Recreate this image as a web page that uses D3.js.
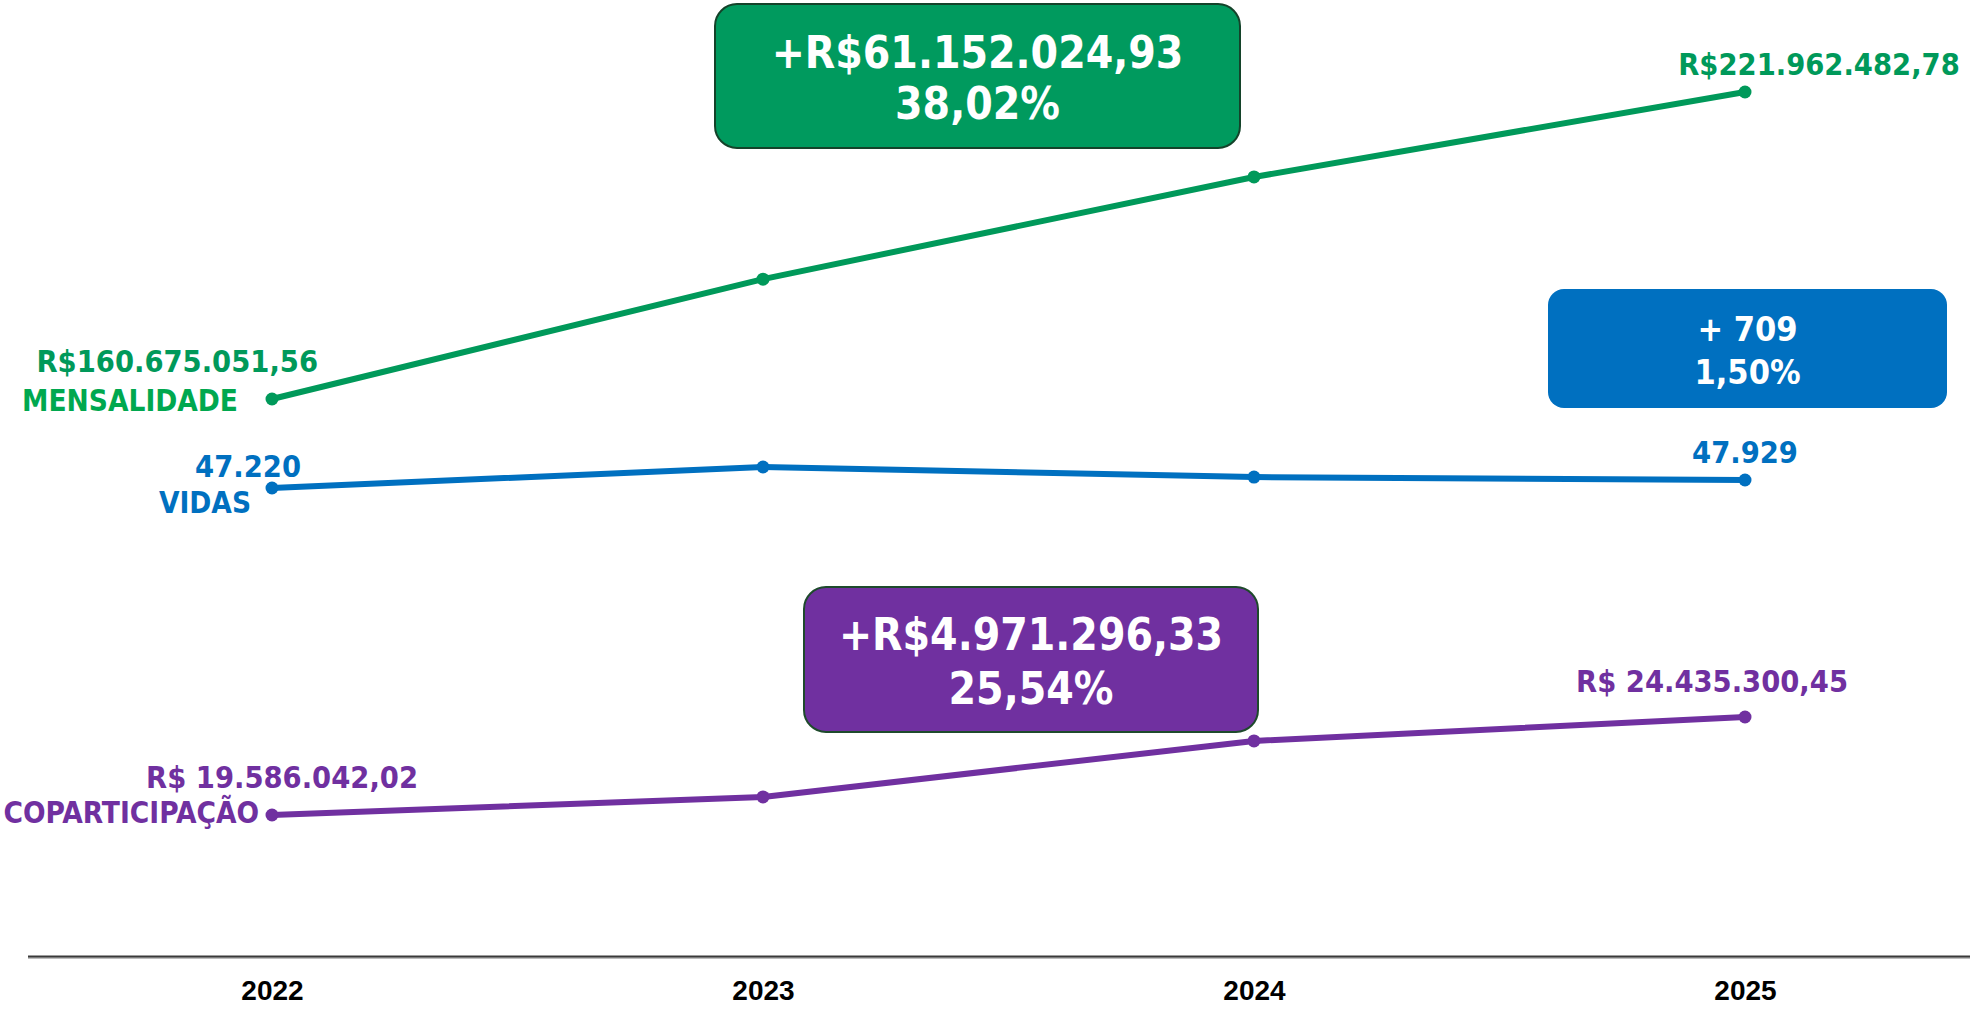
<!DOCTYPE html>
<html>
<head>
<meta charset="utf-8">
<script src="https://cdn.jsdelivr.net/npm/d3@7"></script>
<style>
  html, body { margin: 0; padding: 0; background: #fff; }
  svg { display: block; }
  .lbl { font-family: "DejaVu Sans Condensed", "DejaVu Sans", sans-serif; font-stretch: condensed; font-weight: bold; }
  .axis text { font-family: "Liberation Sans", Arial, sans-serif; font-weight: bold; font-size: 28px; fill: #000; }
</style>
</head>
<body>
<svg id="chart" width="1970" height="1010"></svg>
<script>
// data
var years = ["2022", "2023", "2024", "2025"];
var mensalidade = [160675051.56, 184600000, 205000000, 221962482.78];
var vidas = [47220, 49080, 48190, 47929];
var coparticipacao = [19586042.02, 20480000, 23250000, 24435300.45];

var box_mensalidade = ["+R$61.152.024,93", "38,02%"];
var box_vidas = ["+ 709", "1,50%"];
var box_copart = ["+R$4.971.296,33", "25,54%"];

var br = d3.formatLocale({decimal: ",", thousands: ".", grouping: [3], currency: ["R$", ""]});
var money = br.format(",.2f"),
    count = br.format(",d");

var svg = d3.select("#chart");

var x = d3.scalePoint().domain(years).range([272, 1745]);

// each series has its own vertical scale
var series = [
  {name: "MENSALIDADE", values: mensalidade, color: "#00995a", name_color: "#00a84f",
   y: d3.scaleLinear().domain([mensalidade[0], mensalidade[3]]).range([399, 92]),
   first: "R$" + money(mensalidade[0]), last: "R$" + money(mensalidade[3]),
   first_off: [46, -27], name_off: [-34, 12], last_off: [74, -17]},
  {name: "VIDAS", values: vidas, color: "#0070c0", name_color: "#0070c0",
   y: d3.scaleLinear().domain([vidas[0], vidas[3]]).range([488, 480]),
   first: count(vidas[0]), last: count(vidas[3]),
   first_off: [29, -11], name_off: [-21, 25], last_off: [0, -17]},
  {name: "COPARTICIPAÇÃO", values: coparticipacao, color: "#7030a0", name_color: "#7030a0",
   y: d3.scaleLinear().domain([coparticipacao[0], coparticipacao[3]]).range([815, 717]),
   first: "R$ " + money(coparticipacao[0]), last: "R$ " + money(coparticipacao[3]),
   first_off: [146, -27], name_off: [-13, 8], last_off: [-33, -25]}
];

/* axis */
svg.append("line")
  .attr("x1", 28).attr("x2", 1970).attr("y1", 958).attr("y2", 958)
  .attr("stroke", "#bdbdbd").attr("stroke-width", 2);
svg.append("line")
  .attr("x1", 28).attr("x2", 1970).attr("y1", 956.5).attr("y2", 956.5)
  .attr("stroke", "#3a3a3a").attr("stroke-width", 2);

var axis = svg.append("g")
  .attr("class", "axis")
  .attr("transform", "translate(0,957)")
  .call(d3.axisBottom(x).tickSize(0).tickPadding(23));
axis.select(".domain").remove();

/* lines */
series.forEach(function(s) {
  var line = d3.line()
    .x(function(d, i) { return x(years[i]); })
    .y(function(d) { return s.y(d); });

  svg.append("path")
    .datum(s.values)
    .attr("d", line)
    .attr("fill", "none")
    .attr("stroke", s.color)
    .attr("stroke-width", 6)
    .attr("stroke-linejoin", "round");

  svg.selectAll(null)
    .data(s.values)
    .enter().append("circle")
    .attr("cx", function(d, i) { return x(years[i]); })
    .attr("cy", function(d) { return s.y(d); })
    .attr("r", 6.5)
    .attr("fill", s.color);

  var x0 = x(years[0]), y0 = s.y(s.values[0]);
  var x3 = x(years[3]), y3 = s.y(s.values[3]);

  svg.append("text").attr("class", "lbl")
    .attr("x", x0 + s.first_off[0]).attr("y", y0 + s.first_off[1])
    .attr("text-anchor", "end").attr("font-size", 30.5)
    .attr("fill", s.color).text(s.first);

  svg.append("text").attr("class", "lbl")
    .attr("x", x0 + s.name_off[0]).attr("y", y0 + s.name_off[1])
    .attr("text-anchor", "end").attr("font-size", 29.5)
    .attr("fill", s.name_color).text(s.name);

  svg.append("text").attr("class", "lbl")
    .attr("x", x3 + s.last_off[0]).attr("y", y3 + s.last_off[1])
    .attr("text-anchor", "middle").attr("font-size", 30.5)
    .attr("fill", s.color).text(s.last);
});

/* variation boxes */
function add_box(lines, opt) {
  var g = svg.append("g");
  g.append("rect")
    .attr("x", opt.x).attr("y", opt.y)
    .attr("width", opt.w).attr("height", opt.h)
    .attr("rx", opt.r).attr("ry", opt.r)
    .attr("fill", opt.fill)
    .attr("stroke", opt.stroke || "none")
    .attr("stroke-width", opt.stroke ? 2 : 0);
  g.selectAll("text")
    .data(lines)
    .enter().append("text")
    .attr("class", "lbl")
    .attr("x", opt.x + opt.w / 2)
    .attr("y", function(d, i) { return opt.base[i]; })
    .attr("text-anchor", "middle")
    .attr("font-size", opt.size)
    .attr("fill", "#fff")
    .text(function(d) { return d; });
}

add_box(box_mensalidade, {x: 715, y: 4, w: 525, h: 144, r: 22, fill: "#009a5e", stroke: "#14432a", size: 44, base: [68, 119]});
add_box(box_vidas, {x: 1548, y: 289, w: 399, h: 119, r: 16, fill: "#0070c0", size: 34, base: [341, 384]});
add_box(box_copart, {x: 804, y: 587, w: 454, h: 145, r: 22, fill: "#7030a0", stroke: "#1e4a2c", size: 44, base: [650, 704]});
</script>
</body>
</html>
